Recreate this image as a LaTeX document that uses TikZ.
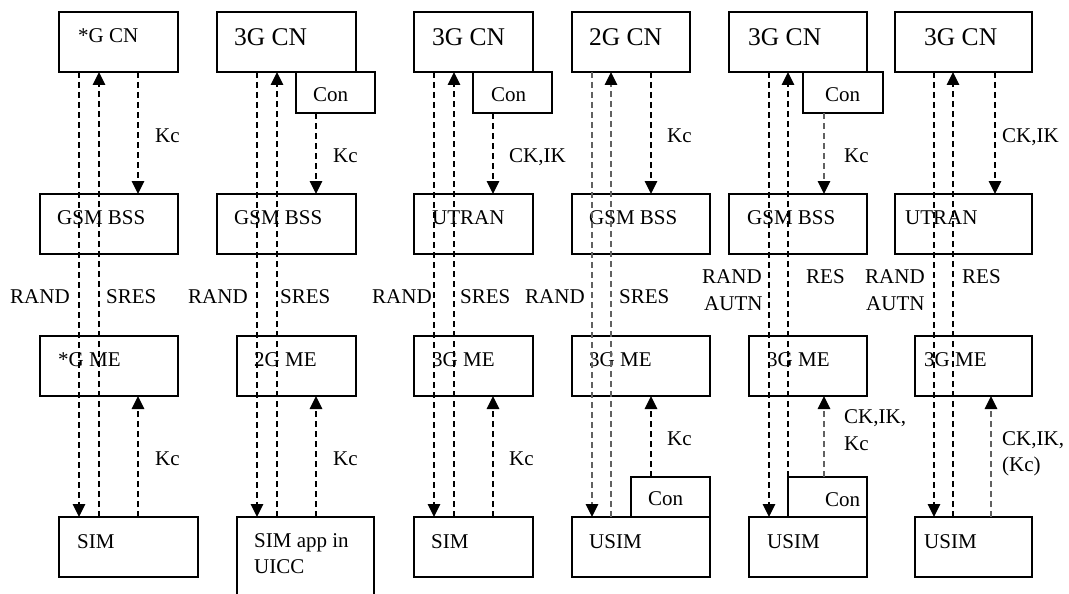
\documentclass[tikz,border=0pt]{standalone}
\usepackage{fontspec}
\setmainfont{Liberation Serif}
\usetikzlibrary{arrows.meta}
\begin{document}
\begin{tikzpicture}[x=1pt,y=-1pt,
  box/.style={draw, line width=1.2pt, anchor=north west, inner sep=0pt, outer sep=0pt},
  txt/.style={anchor=base west, inner sep=0pt, font=\fontsize{21}{26}\selectfont},
  big/.style={anchor=base west, inner sep=0pt, font=\fontsize{25.5}{30}\selectfont},
  dsh/.style={line width=1.3pt, dash pattern=on 6pt off 4pt},
  arr/.style={dsh, -{Triangle[width=12.5pt,length=13pt,color=black]}},
  pale/.style={draw=black!62}
]
\clip (0,0) rectangle (1069,594);
\fill[white] (0,0) rectangle (1069,594);

% ---------- boxes ----------
\node[box, minimum width=119pt, minimum height=60pt] (cn1) at (59,12) {};
\node[box, minimum width=138pt, minimum height=60pt] (bss1) at (40,194) {};
\node[box, minimum width=138pt, minimum height=60pt] (me1) at (40,336) {};
\node[box, minimum width=139pt, minimum height=60pt] (sim1) at (59,517) {};

\node[box, minimum width=139pt, minimum height=60pt] (cn2) at (217,12) {};
\node[box, minimum width=79pt, minimum height=41pt] (con2) at (296,72) {};
\node[box, minimum width=139pt, minimum height=60pt] (bss2) at (217,194) {};
\node[box, minimum width=119pt, minimum height=60pt] (me2) at (237,336) {};
\node[box, minimum width=137pt, minimum height=100pt] (sim2) at (237,517) {};

\node[box, minimum width=119pt, minimum height=60pt] (cn3) at (414,12) {};
\node[box, minimum width=79pt, minimum height=41pt] (con3) at (473,72) {};
\node[box, minimum width=119pt, minimum height=60pt] (utran3) at (414,194) {};
\node[box, minimum width=119pt, minimum height=60pt] (me3) at (414,336) {};
\node[box, minimum width=119pt, minimum height=60pt] (sim3) at (414,517) {};

\node[box, minimum width=118pt, minimum height=60pt] (cn4) at (572,12) {};
\node[box, minimum width=138pt, minimum height=60pt] (bss4) at (572,194) {};
\node[box, minimum width=138pt, minimum height=60pt] (me4) at (572,336) {};
\node[box, minimum width=79pt, minimum height=40pt] (con4) at (631,477) {};
\node[box, minimum width=138pt, minimum height=60pt] (usim4) at (572,517) {};

\node[box, minimum width=138pt, minimum height=60pt] (cn5) at (729,12) {};
\node[box, minimum width=80pt, minimum height=41pt] (con5) at (803,72) {};
\node[box, minimum width=138pt, minimum height=60pt] (bss5) at (729,194) {};
\node[box, minimum width=118pt, minimum height=60pt] (me5) at (749,336) {};
\node[box, minimum width=79pt, minimum height=40pt] (con5b) at (788,477) {};
\node[box, minimum width=118pt, minimum height=60pt] (usim5) at (749,517) {};

\node[box, minimum width=137pt, minimum height=60pt] (cn6) at (895,12) {};
\node[box, minimum width=137pt, minimum height=60pt] (utran6) at (895,194) {};
\node[box, minimum width=117pt, minimum height=60pt] (me6) at (915,336) {};
\node[box, minimum width=117pt, minimum height=60pt] (usim6) at (915,517) {};

% ---------- box texts ----------
\node[txt] (tcn1) at (78,43) {*G CN};
\node[txt] (tbss1) at (57,224) {GSM BSS};
\node[txt] (tme1) at (58,366) {*G ME};
\node[txt] (tsim1) at (77,548) {SIM};

\node[big] (tcn2) at (234,46) {3G CN};
\node[txt] (tcon2) at (313,102) {Con};
\node[txt] (tbss2) at (234,224) {GSM BSS};
\node[txt] (tme2) at (254,366) {2G ME};
\node[txt] (tsim2a) at (254,547) {SIM app in};
\node[txt] (tsim2b) at (254,573) {UICC};

\node[big] (tcn3) at (432,46) {3G CN};
\node[txt] (tcon3) at (491,102) {Con};
\node[txt] (tutran3) at (432,224) {UTRAN};
\node[txt] (tme3) at (432,366) {3G ME};
\node[txt] (tsim3) at (431,548) {SIM};

\node[big] (tcn4) at (589,46) {2G CN};
\node[txt] (tbss4) at (589,224) {GSM BSS};
\node[txt] (tme4) at (589,366) {3G ME};
\node[txt] (tcon4) at (648,505) {Con};
\node[txt] (tusim4) at (589,548) {USIM};

\node[big] (tcn5) at (748,46) {3G CN};
\node[txt] (tcon5) at (825,102) {Con};
\node[txt] (tbss5) at (747,224) {GSM BSS};
\node[txt] (tme5) at (767,366) {3G ME};
\node[txt] (tcon5b) at (825,506) {Con};
\node[txt] (tusim5) at (767,548) {USIM};

\node[big] (tcn6) at (924,46) {3G CN};
\node[txt] (tutran6) at (905,224) {UTRAN};
\node[txt] (tme6) at (924,366) {3G ME};
\node[txt] (tusim6) at (924,548) {USIM};

% ---------- line columns ----------
\coordinate (a1) at (79,0);  \coordinate (b1) at (99,0);  \coordinate (c1) at (138,0);
\coordinate (a2) at (257,0); \coordinate (b2) at (277,0); \coordinate (c2) at (316,0);
\coordinate (a3) at (434,0); \coordinate (b3) at (454,0); \coordinate (c3) at (493,0);
\coordinate (a4) at (592,0); \coordinate (b4) at (611,0); \coordinate (c4) at (651,0);
\coordinate (a5) at (769,0); \coordinate (b5) at (788,0); \coordinate (c5) at (824,0);
\coordinate (a6) at (934,0); \coordinate (b6) at (953,0); \coordinate (c6) at (995,0); \coordinate (d6) at (991,0);

% column 1
\draw[arr] (cn1.south -| a1) -- (sim1.north -| a1);
\draw[arr] (sim1.north -| b1) -- (cn1.south -| b1);
\draw[arr] (cn1.south -| c1) -- (bss1.north -| c1);
\draw[arr] (sim1.north -| c1) -- (me1.south -| c1);
% column 2
\draw[arr] (cn2.south -| a2) -- (sim2.north -| a2);
\draw[arr] (sim2.north -| b2) -- (cn2.south -| b2);
\draw[arr] (con2.south -| c2) -- (bss2.north -| c2);
\draw[arr] (sim2.north -| c2) -- (me2.south -| c2);
% column 3
\draw[arr] (cn3.south -| a3) -- (sim3.north -| a3);
\draw[arr] (sim3.north -| b3) -- (cn3.south -| b3);
\draw[arr] (con3.south -| c3) -- (utran3.north -| c3);
\draw[arr] (sim3.north -| c3) -- (me3.south -| c3);
% column 4
\draw[arr, pale] (cn4.south -| a4) -- (usim4.north -| a4);
\draw[arr, pale] (usim4.north -| b4) -- (cn4.south -| b4);
\draw[arr] (cn4.south -| c4) -- (bss4.north -| c4);
\draw[arr] (con4.north -| c4) -- (me4.south -| c4);
% column 5
\draw[arr] (cn5.south -| a5) -- (usim5.north -| a5);
\draw[arr] (usim5.north -| b5) -- (cn5.south -| b5);
\draw[arr, pale] (con5.south -| c5) -- (bss5.north -| c5);
\draw[arr, pale] (con5b.north -| c5) -- (me5.south -| c5);
% column 6
\draw[arr] (cn6.south -| a6) -- (usim6.north -| a6);
\draw[arr] (usim6.north -| b6) -- (cn6.south -| b6);
\draw[arr] (cn6.south -| c6) -- (utran6.north -| c6);
\draw[arr, pale] (usim6.north -| d6) -- (me6.south -| d6);

% ---------- labels ----------
\node[txt] (k1u) at (155,142) {Kc};
\node[txt] (k1l) at (155,465) {Kc};
\node[txt] (r1) at (10,303) {RAND};
\node[txt] (s1) at (106,303) {SRES};

\node[txt] (k2u) at (333,162) {Kc};
\node[txt] (k2l) at (333,465) {Kc};
\node[txt] (r2) at (188,303) {RAND};
\node[txt] (s2) at (280,303) {SRES};

\node[txt] (k3u) at (509,162) {CK,IK};
\node[txt] (k3l) at (509,465) {Kc};
\node[txt] (r3) at (372,303) {RAND};
\node[txt] (s3) at (460,303) {SRES};

\node[txt] (k4u) at (667,142) {Kc};
\node[txt] (k4l) at (667,445) {Kc};
\node[txt] (r4) at (525,303) {RAND};
\node[txt] (s4) at (619,303) {SRES};

\node[txt] (k5u) at (844,162) {Kc};
\node[txt] (k5la) at (844,423) {CK,IK,};
\node[txt] (k5lb) at (844,450) {Kc};
\node[txt] (r5) at (702,283) {RAND};
\node[txt] (u5) at (704,310) {AUTN};
\node[txt] (s5) at (806,283) {RES};

\node[txt] (k6u) at (1002,142) {CK,IK};
\node[txt] (k6la) at (1002,445) {CK,IK,};
\node[txt] (k6lb) at (1002,471) {(Kc)};
\node[txt] (r6) at (865,283) {RAND};
\node[txt] (u6) at (866,310) {AUTN};
\node[txt] (s6) at (962,283) {RES};
\end{tikzpicture}
\end{document}
